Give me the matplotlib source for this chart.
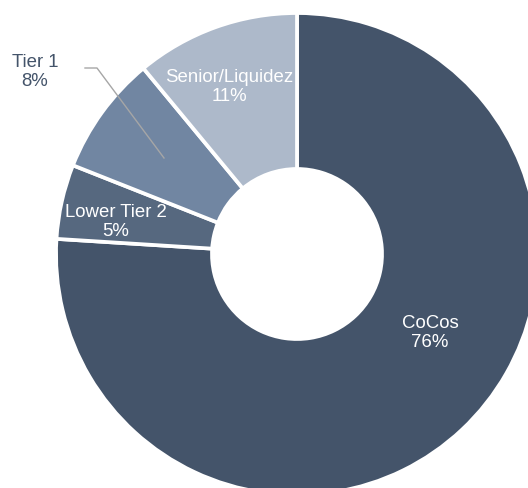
import matplotlib
matplotlib.use("Agg")
import matplotlib.pyplot as plt

categories = ["CoCos", "Lower Tier 2", "Tier 1", "Senior/Liquidez"]
values = [76, 5, 8, 11]
labels = ["CoCos\n76%", "Lower Tier 2\n5%", "Tier 1\n8%", "Senior/Liquidez\n11%"]
colors = ["#44546A", "#56687F", "#7186A2", "#ADB9CA"]

plt.rcParams['font.family'] = ['Liberation Sans', 'DejaVu Sans']

W, H = 528, 489
fig = plt.figure(figsize=(W / 100, H / 100), dpi=100)
cx, cy, R = 297, H - 255, 241
ax = fig.add_axes([(cx - R) / W, (cy - R) / H, 2 * R / W, 2 * R / H])
ax.axis("off")

ax.pie(values, colors=colors, startangle=90, counterclock=False, radius=1,
       wedgeprops=dict(width=1 - 85 / 241, edgecolor="white", linewidth=2.7))
ax.set_xlim(-1, 1)
ax.set_ylim(-1, 1)
ax.set_aspect("auto")

def px(x, y):
    return ((x - cx) / R, ((H - y) - cy) / R)

pos = [px(430, 333), px(116, 222), px(35, 72), px(229, 87)]
tcol = ["white", "white", "#44546A", "white"]
for lab, p, c in zip(labels, pos, tcol):
    ax.text(p[0], p[1], lab, ha="center", va="center", color=c, fontsize=13.4,
            linespacing=1.12, clip_on=False)

lx, ly = zip(px(85, 69), px(97, 69), px(164, 159))
ax.plot(lx, ly, color="#A6A6A6", lw=1.0, clip_on=False)

fig.savefig("out.png", dpi=100)
